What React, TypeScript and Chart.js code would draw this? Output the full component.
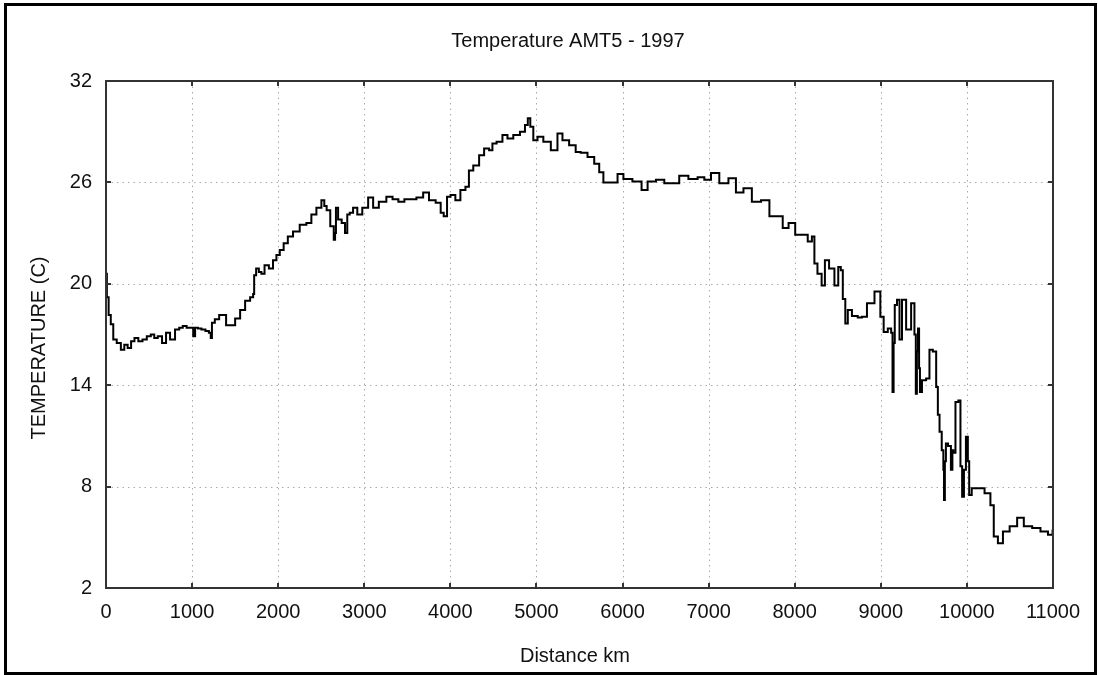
import React, { useEffect, useRef } from "react";
import { Chart, registerables } from "chart.js";

Chart.register(...registerables);

const TITLE = "Temperature AMT5 - 1997";
const X_TITLE = "Distance km";
const Y_TITLE = "TEMPERATURE (C)";

const xTicks = [0, 1000, 2000, 3000, 4000, 5000, 6000, 7000, 8000, 9000, 10000, 11000];
const yTicks = [2, 8, 14, 20, 26, 32];

const distanceKm = [
  0, 20, 41, 70, 99, 150, 195, 230, 273, 310, 351, 400, 448, 500, 541, 580, 622, 680, 715, 773,
  831, 870, 913, 960, 1006, 1020, 1050, 1087, 1130, 1180, 1210, 1223, 1238, 1290, 1339, 1377, 1413, 1471, 1529, 1587,
  1645, 1703, 1715, 1727, 1761, 1790, 1820, 1863, 1921, 1959, 2000, 2037, 2090, 2134, 2211, 2289, 2366, 2405, 2483, 2521,
  2550, 2576, 2634, 2657, 2665, 2677, 2715, 2760, 2793, 2812, 2850, 2890, 2948, 3006, 3084, 3122, 3216, 3297, 3360, 3432,
  3500, 3567, 3645, 3723, 3781, 3878, 3897, 3948, 3975, 4029, 4087, 4146, 4204, 4227, 4305, 4363, 4421, 4479, 4498, 4576,
  4634, 4692, 4770, 4847, 4886, 4913, 4944, 4983, 5041, 5119, 5215, 5273, 5331, 5428, 5483, 5544, 5642, 5700, 5758, 5797,
  5913, 5971, 6049, 6180, 6262, 6320, 6456, 6514, 6610, 6707, 6823, 6921, 6979, 7076, 7172, 7288, 7346, 7463, 7541, 7677,
  7735, 7831, 7890, 7967, 8044, 8122, 8180, 8219, 8238, 8290, 8335, 8366, 8432, 8490, 8521, 8549, 8568, 8607, 8626, 8703,
  8761, 8800, 8878, 8975, 9014, 9052, 9110, 9130, 9142, 9155, 9169, 9207, 9227, 9265, 9323, 9381, 9400, 9413, 9425, 9439,
  9450, 9459, 9497, 9555, 9575, 9633, 9653, 9672, 9692, 9723, 9730, 9738, 9750, 9762, 9800, 9828, 9835, 9850, 9884, 9917,
  9933, 9956, 9975, 10002, 10020, 10033, 10079, 10157, 10253, 10293, 10331, 10389, 10448, 10545, 10622, 10700, 10816, 10893, 10990, 11000,
];

const temperatureC = [
  20.6, 19.2, 18.15, 17.6, 16.7, 16.5, 16.1, 16.4, 16.2, 16.6, 16.8, 16.6, 16.7, 16.9, 17.0, 16.8, 16.9, 16.5, 17.1, 16.7,
  17.3, 17.4, 17.5, 17.4, 17.4, 16.9, 17.4, 17.35, 17.3, 17.2, 17.1, 16.8, 17.7, 17.9, 18.15, 18.15, 17.55, 17.55, 17.95, 18.45,
  19.0, 19.2, 19.4, 20.5, 20.9, 20.7, 20.6, 21.1, 20.9, 21.4, 21.7, 22.0, 22.4, 22.8, 23.1, 23.5, 23.6, 24.1, 24.5, 24.95,
  24.6, 24.35, 23.4, 22.6, 23.0, 24.5, 23.8, 23.6, 23.0, 24.1, 24.2, 24.5, 24.1, 24.5, 25.1, 24.5, 24.85, 25.15, 25.0, 24.85,
  25.0, 25.0, 25.1, 25.4, 24.95, 24.8, 24.2, 24.0, 25.15, 25.25, 24.95, 25.55, 25.75, 26.7, 27.0, 27.6, 28.0, 27.9, 28.3, 28.4,
  28.8, 28.6, 28.8, 29.0, 29.4, 29.8, 29.3, 28.5, 28.7, 28.4, 27.9, 28.9, 28.5, 28.2, 27.8, 27.75, 27.5, 27.1, 26.6, 26.0,
  26.0, 26.5, 26.2, 26.05, 25.55, 26.05, 26.15, 25.95, 25.95, 26.4, 26.2, 26.3, 26.15, 26.55, 25.95, 26.25, 25.4, 25.65, 24.85, 24.95,
  24.0, 24.0, 23.3, 23.6, 22.9, 22.9, 22.5, 22.8, 21.2, 20.6, 19.9, 21.4, 20.9, 19.9, 21.0, 20.8, 19.1, 17.65, 18.45, 18.1,
  18.0, 18.05, 18.85, 19.55, 18.05, 17.15, 17.35, 17.1, 13.6, 16.5, 18.75, 19.05, 16.7, 19.05, 17.3, 18.85, 17.0, 13.5, 16.0, 17.35,
  15.0, 13.6, 14.3, 14.4, 16.1, 16.0, 13.9, 12.25, 11.25, 10.15, 9.0, 7.2, 9.5, 10.55, 10.4, 9.0, 10.15, 10.0, 13.0, 13.1,
  9.2, 7.4, 9.0, 10.95, 9.5, 7.5, 7.9, 7.9, 7.6, 6.9, 5.05, 4.65, 5.35, 5.65, 6.15, 5.65, 5.55, 5.35, 5.15, 5.4,
];

const FONT = "'Liberation Sans', Arial, sans-serif";

const decorPlugin = {
  id: "decor",
  beforeDatasetsDraw(chart: any) {
    const { ctx, chartArea: a, scales } = chart;
    const xs = scales.x;
    const ys = scales.y;
    ctx.save();
    ctx.strokeStyle = "#aaaaaa";
    ctx.lineWidth = 1;
    ctx.setLineDash([1.5, 4]);
    xTicks.slice(1, -1).forEach((v) => {
      const px = Math.round(xs.getPixelForValue(v)) + 0.5;
      ctx.beginPath();
      ctx.moveTo(px, a.top);
      ctx.lineTo(px, a.bottom);
      ctx.stroke();
    });
    yTicks.slice(1, -1).forEach((v) => {
      const py = Math.round(ys.getPixelForValue(v)) + 0.5;
      ctx.beginPath();
      ctx.moveTo(a.left, py);
      ctx.lineTo(a.right, py);
      ctx.stroke();
    });
    ctx.restore();
  },
  afterDraw(chart: any) {
    const { ctx, chartArea: a, scales } = chart;
    const xs = scales.x;
    const ys = scales.y;
    ctx.save();
    ctx.strokeStyle = "#333333";
    ctx.lineWidth = 2;
    ctx.strokeRect(a.left, a.top, a.right - a.left, a.bottom - a.top);
    ctx.lineWidth = 2;
    xTicks.forEach((v) => {
      const px = Math.round(xs.getPixelForValue(v));
      ctx.beginPath();
      ctx.moveTo(px, a.top);
      ctx.lineTo(px, a.top + 5);
      ctx.moveTo(px, a.bottom);
      ctx.lineTo(px, a.bottom - 5);
      ctx.stroke();
    });
    yTicks.forEach((v) => {
      const py = Math.round(ys.getPixelForValue(v));
      ctx.beginPath();
      ctx.moveTo(a.left, py);
      ctx.lineTo(a.left + 5, py);
      ctx.moveTo(a.right, py);
      ctx.lineTo(a.right - 5, py);
      ctx.stroke();
    });
    ctx.fillStyle = "#111111";
    ctx.font = `20px ${FONT}`;
    ctx.textAlign = "center";
    ctx.textBaseline = "middle";
    ctx.fillText(TITLE, 568, 41);
    ctx.fillText(X_TITLE, 575, 656);
    ctx.translate(39, 348);
    ctx.rotate(-Math.PI / 2);
    ctx.fillText(Y_TITLE, 0, 0);
    ctx.restore();
    ctx.save();
    ctx.strokeStyle = "#000000";
    ctx.lineWidth = 3;
    ctx.strokeRect(5.5, 4.5, 1090, 669);
    ctx.restore();
  },
};

export default function App() {
  const ref = useRef<HTMLCanvasElement | null>(null);
  useEffect(() => {
    if (!ref.current) return;
    const points = distanceKm.map((d, i) => ({ x: d, y: temperatureC[i] }));
    const chart = new Chart(ref.current, {
      type: "line",
      data: {
        datasets: [
          {
            data: points,
            borderColor: "#000000",
            borderWidth: 2,
            pointRadius: 0,
            tension: 0,
            stepped: "middle",
            fill: false,
          },
        ],
      },
      options: {
        responsive: false,
        animation: false,
        devicePixelRatio: 1,
        layout: { padding: { left: 0, top: 81, right: 45, bottom: 0 } },
        plugins: {
          legend: { display: false },
          title: { display: false },
          tooltip: { enabled: false },
        },
        scales: {
          x: {
            type: "linear",
            min: 0,
            max: 11000,
            afterBuildTicks: (s: any) => {
              s.ticks = xTicks.map((v) => ({ value: v }));
            },
            afterFit: (s: any) => {
              s.height = 87;
            },
            grid: { display: false, drawTicks: false },
            border: { display: false },
            ticks: {
              padding: 12,
              color: "#111111",
              font: { family: FONT, size: 20 },
              maxRotation: 0,
              autoSkip: false,
              callback: (v: any) => String(v),
            },
          },
          y: {
            type: "linear",
            min: 2,
            max: 32,
            afterBuildTicks: (s: any) => {
              s.ticks = yTicks.map((v) => ({ value: v }));
            },
            afterFit: (s: any) => {
              s.width = 106;
            },
            grid: { display: false, drawTicks: false },
            border: { display: false },
            ticks: {
              padding: 14,
              color: "#111111",
              font: { family: FONT, size: 20 },
              autoSkip: false,
              callback: (v: any) => String(v),
            },
          },
        },
      },
      plugins: [decorPlugin],
    });
    return () => chart.destroy();
  }, []);
  return (
    <div style={{ position: "fixed", left: 0, top: 0, width: 1098, height: 675, background: "#ffffff" }}>
      <canvas ref={ref} width={1098} height={675} style={{ width: 1098, height: 675, display: "block" }} />
    </div>
  );
}
